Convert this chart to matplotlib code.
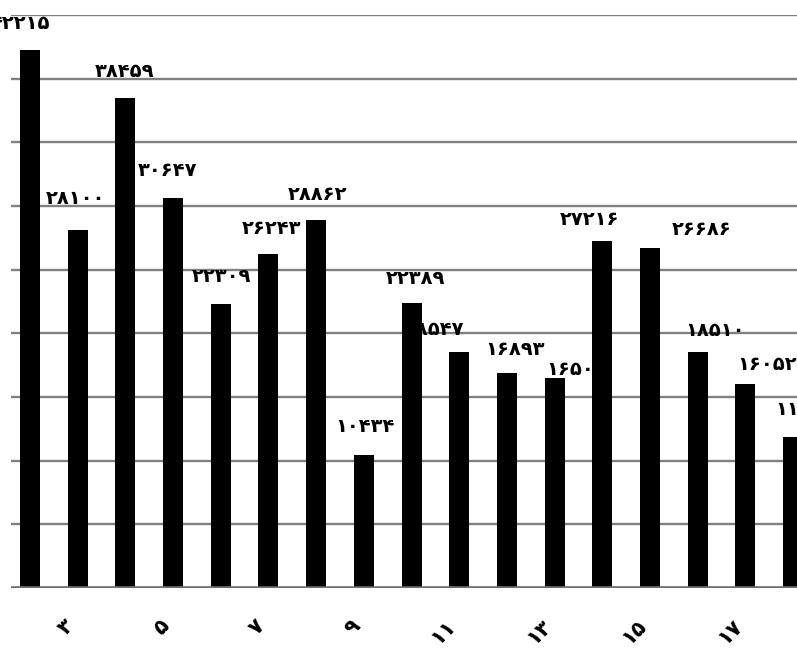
import matplotlib.pyplot as plt
import matplotlib.transforms as mtransforms
import numpy as np

# bar values per category (categories 2..18 on the axis)
categories = list(range(2, 19))
values = [42215, 28100, 38459, 30647, 22309, 26243, 28862, 10434, 22389,
          18547, 16893, 16500, 27216, 26686, 18510, 16052, 11830]
tick_cats = [3, 5, 7, 9, 11, 13, 15, 17]

# hand-placed label offsets (pixels from bar top)
label_dx = [-9, -2, -1, -6, 1, 3, 1, 1, 4, -25, 8, 22, -13, 52, 17, 22, 12]
label_dy = [27, 32, 27, 27, 27, 25, 26, 29, 24, 22, 23, 8, 22, 19, 22, 19, 28]

FA = str.maketrans("0123456789", "۰۱۲۳۴۵۶۷۸۹")


def fa(n):
    return str(n).translate(FA)


W, H = 797, 668
fig = plt.figure(figsize=(W / 100, H / 100), dpi=100)
ax_w = 830
ax = fig.add_axes([11 / W, 1 - 588 / H, ax_w / W, 573 / H])

step = 47.69
x0 = 2 - 19 / step
ax.set_xlim(x0, x0 + ax_w / step)
ax.set_ylim(0, 45000)

ax.bar(categories, values, width=0.42, color="black", zorder=3)

for c, v, dx, dy in zip(categories, values, label_dx, label_dy):
    ax.annotate(fa(v), (c, v), xytext=(dx, dy), textcoords="offset pixels",
                ha="center", va="center", fontsize=14, fontweight="bold",
                family="DejaVu Sans", zorder=2.5, annotation_clip=False)

for y in np.arange(5000, 45001, 5000):
    ax.axhline(y, color="#808080", lw=1.7, zorder=0)
ax.axhline(0, color="#6e6e6e", lw=2.6, zorder=4)

for s in ax.spines.values():
    s.set_visible(False)
ax.set_yticks([])
ax.set_xticks(tick_cats)
ax.set_xticklabels([fa(c) for c in tick_cats], rotation=45, ha="right",
                   rotation_mode="anchor", fontsize=15, fontweight="bold")
ax.tick_params(axis="x", length=0, pad=20)
shift = mtransforms.ScaledTranslation(-14 / 100, 0, fig.dpi_scale_trans)
for lbl in ax.get_xticklabels():
    lbl.set_transform(lbl.get_transform() + shift)

fig.savefig("out.png", dpi=100)
